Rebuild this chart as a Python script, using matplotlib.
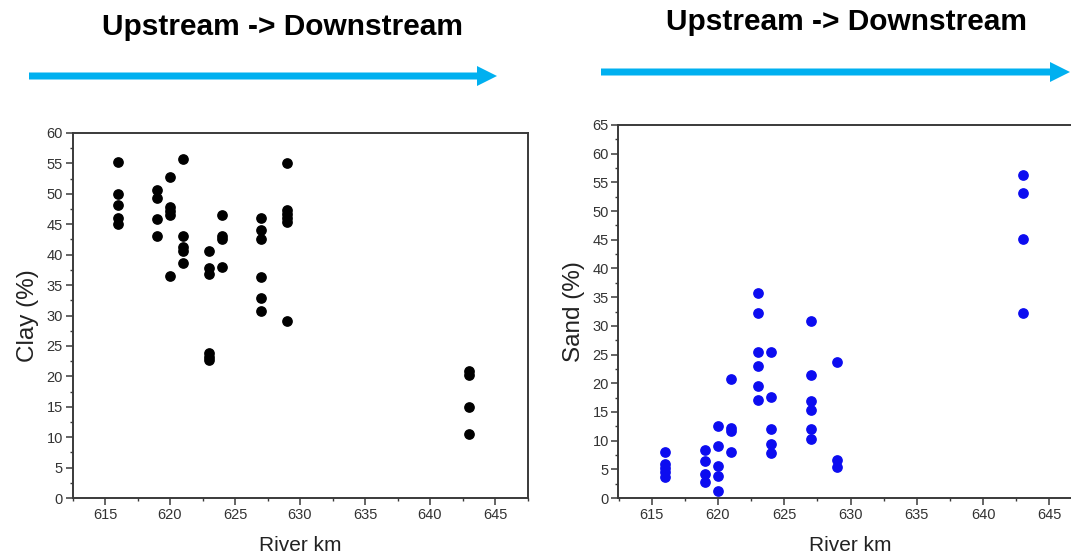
import matplotlib
matplotlib.use("Agg")
import matplotlib.pyplot as plt
from matplotlib.ticker import MultipleLocator
from matplotlib.patches import FancyArrow

plt.rcParams['font.family'] = ['Liberation Sans', 'DejaVu Sans']

# ---- data ----
clay_km = [616, 616, 616, 616, 616,
           619, 619, 619, 619,
           620, 620, 620, 620, 620,
           621, 621, 621, 621, 621,
           623, 623, 623, 623, 623, 623,
           624, 624, 624, 624,
           627, 627, 627, 627, 627, 627,
           629, 629, 629, 629, 629, 629,
           643, 643, 643, 643]
clay_pct = [55.3, 50.0, 48.1, 46.1, 45.0,
            50.7, 49.3, 45.9, 43.0,
            52.7, 47.9, 47.2, 46.5, 36.5,
            55.7, 43.1, 41.2, 40.6, 38.6,
            40.6, 37.8, 36.8, 23.9, 23.2, 22.7,
            46.6, 43.1, 42.5, 37.9,
            46.1, 44.1, 42.6, 36.4, 32.9, 30.8,
            55.0, 47.3, 46.7, 46.0, 45.3, 29.1,
            20.9, 20.3, 15.0, 10.6]

sand_km = [616, 616, 616, 616, 616,
           619, 619, 619, 619,
           620, 620, 620, 620, 620,
           621, 621, 621, 621,
           623, 623, 623, 623, 623, 623,
           624, 624, 624, 624, 624,
           627, 627, 627, 627, 627, 627,
           629, 629, 629,
           643, 643, 643, 643]
sand_pct = [8.0, 5.9, 5.3, 4.5, 3.7,
            8.3, 6.5, 4.1, 2.8,
            12.6, 9.0, 5.5, 3.9, 1.2,
            20.7, 12.2, 11.7, 8.1,
            35.7, 32.2, 25.4, 23.0, 19.5, 17.1,
            25.4, 17.6, 12.0, 9.4, 7.9,
            30.9, 21.5, 16.9, 15.4, 12.0, 10.3,
            23.7, 6.6, 5.4,
            56.2, 53.1, 45.1, 32.3]

title_text = "Upstream -> Downstream"
x_label = "River km"
clay_label = "Clay (%)"
sand_label = "Sand (%)"

W, H = 1071, 558
fig = plt.figure(figsize=(W / 100, H / 100), dpi=100)


def box(x0, y0, x1, y1):
    return [x0 / W, 1 - y1 / H, (x1 - x0) / W, (y1 - y0) / H]


spine_c = '#3a3a3a'
tick_c = '#333333'


def style(ax, ymax):
    ax.set_xlim(612.5, 647.5)
    ax.set_ylim(0, ymax)
    ax.xaxis.set_major_locator(MultipleLocator(5))
    ax.xaxis.set_minor_locator(MultipleLocator(2.5))
    ax.yaxis.set_major_locator(MultipleLocator(5))
    ax.yaxis.set_minor_locator(MultipleLocator(2.5))
    ax.set_xticks([615, 620, 625, 630, 635, 640, 645])
    for s in ax.spines.values():
        s.set_color(spine_c)
        s.set_linewidth(1.4)
    ax.tick_params(which='major', direction='out', length=5, width=1.1,
                   color=spine_c, labelsize=10.5, labelcolor=tick_c, pad=2)
    ax.tick_params(which='minor', direction='out', length=2.5, width=1.0,
                   color=spine_c)
    ax.set_xlabel(x_label, fontsize=15, color='#222222', labelpad=10)


ax1 = fig.add_axes(box(72.5, 133, 527.5, 498))
ax1.plot(clay_km, clay_pct, 'o', color='black', markersize=6.7, linestyle='none')
style(ax1, 60)
ax1.set_ylabel(clay_label, fontsize=17.5, color='#222222', labelpad=5)

ax2 = fig.add_axes(box(618.5, 125, 1082.5, 498))
ax2.plot(sand_km, sand_pct, 'o', color='#0c0cf0', markersize=6.7, linestyle='none')
style(ax2, 65)
ax2.set_ylabel(sand_label, fontsize=17.5, color='#222222', labelpad=5)

# titles
fig.text(283 / W, 1 - 27 / H, title_text, ha='center', va='center',
         fontsize=21.5, fontweight='bold', color='black')
fig.text(846 / W, 1 - 22 / H, title_text, ha='center', va='center',
         fontsize=21.5, fontweight='bold', color='black')

# arrows
arrow_c = '#00b0f0'


def arrow(x0, x1, y):
    a = FancyArrow(x0 / W, 1 - y / H, (x1 - x0) / W, 0,
                   width=7 / H, head_width=20 / H, head_length=20 / W,
                   length_includes_head=True, color=arrow_c,
                   transform=fig.transFigure, linewidth=0)
    fig.patches.append(a)


arrow(29, 497, 76)
arrow(601, 1070, 72)

fig.savefig("out.png", dpi=100)
